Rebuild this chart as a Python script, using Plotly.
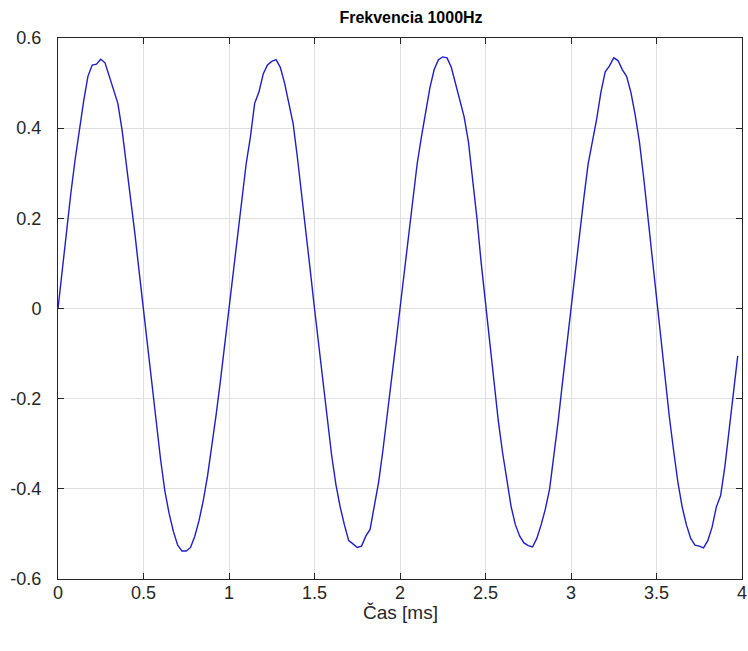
import numpy as np
import plotly.graph_objects as go

amplitude = [
    0.000, 0.090, 0.175, 0.255, 0.330, 0.400, 0.460, 0.515, 0.540, 0.542,
    0.553, 0.545, 0.515, 0.480, 0.455, 0.395, 0.320, 0.245, 0.165, 0.080,
    -0.005, -0.090, -0.175, -0.255, -0.335, -0.405, -0.455, -0.495, -0.525, -0.538,
    -0.538, -0.530, -0.505, -0.470, -0.425, -0.370, -0.305, -0.235, -0.160, -0.080,
    0.000, 0.080, 0.160, 0.240, 0.320, 0.380, 0.455, 0.480, 0.520, 0.540,
    0.548, 0.552, 0.535, 0.500, 0.455, 0.410, 0.335, 0.255, 0.170, 0.085,
    0.000, -0.085, -0.170, -0.250, -0.325, -0.390, -0.440, -0.480, -0.515, -0.522,
    -0.530, -0.527, -0.505, -0.490, -0.440, -0.385, -0.315, -0.240, -0.160, -0.080,
    0.000, 0.080, 0.160, 0.240, 0.320, 0.380, 0.440, 0.490, 0.530, 0.552,
    0.558, 0.556, 0.535, 0.500, 0.460, 0.425, 0.370, 0.290, 0.200, 0.100,
    0.010, -0.085, -0.170, -0.250, -0.320, -0.385, -0.440, -0.480, -0.505, -0.520,
    -0.526, -0.529, -0.510, -0.480, -0.445, -0.400, -0.330, -0.250, -0.165, -0.080,
    0.000, 0.080, 0.165, 0.245, 0.320, 0.370, 0.420, 0.480, 0.525, 0.538,
    0.556, 0.550, 0.530, 0.515, 0.480, 0.430, 0.370, 0.290, 0.200, 0.105,
    0.015, -0.075, -0.160, -0.240, -0.315, -0.385, -0.440, -0.480, -0.510, -0.525,
    -0.527, -0.531, -0.515, -0.485, -0.440, -0.415, -0.350, -0.270, -0.190, -0.105,
]
dt = 0.025
time_ms = np.arange(len(amplitude)) * dt

xticks = [0, 0.5, 1, 1.5, 2, 2.5, 3, 3.5, 4]
xticklabels = ['0', '0.5', '1', '1.5', '2', '2.5', '3', '3.5', '4']
yticks = [-0.6, -0.4, -0.2, 0, 0.2, 0.4, 0.6]
yticklabels = ['-0.6', '-0.4', '-0.2', '0', '0.2', '0.4', '0.6']

font_family = 'Liberation Sans, Arial'
ink = 'rgb(38,38,38)'

fig = go.Figure()
fig.add_trace(go.Scatter(x=time_ms, y=amplitude, mode='lines',
                         line=dict(color='rgb(30,30,200)', width=1.4),
                         showlegend=False))

axis_common = dict(showgrid=True, gridcolor='rgb(223,223,223)', gridwidth=1,
                   showline=True, linecolor=ink, linewidth=1,
                   mirror='ticks', ticks='inside', ticklen=6, tickcolor=ink,
                   zeroline=False, automargin=False,
                   tickfont=dict(family=font_family, size=18, color=ink))

fig.update_layout(
    width=748, height=651,
    margin=dict(l=58, r=6, t=38, b=72),
    paper_bgcolor='white', plot_bgcolor='white',
    title=dict(text='<b>Frekvencia 1000Hz</b>', x=411/748, xanchor='center',
               y=1 - 17/651, yanchor='middle',
               font=dict(family=font_family, size=16, color='black')),
    xaxis=dict(range=[0, 4], tickvals=xticks, ticktext=xticklabels,
               ticklabelstandoff=-3, **axis_common),
    yaxis=dict(range=[-0.6, 0.6], tickvals=yticks, ticktext=yticklabels,
               ticklabelstandoff=12, **axis_common),
)

fig.add_annotation(text='Čas [ms]', xref='paper', yref='paper', x=0.5, y=-33/541,
                   xanchor='center', yanchor='middle', showarrow=False,
                   font=dict(family=font_family, size=19, color=ink))

# drop the default page margin so the 748x651 figure fills the window
fig.write_html("out.html", config={'displayModeBar': False},
               post_script="document.body.style.margin='0';")
